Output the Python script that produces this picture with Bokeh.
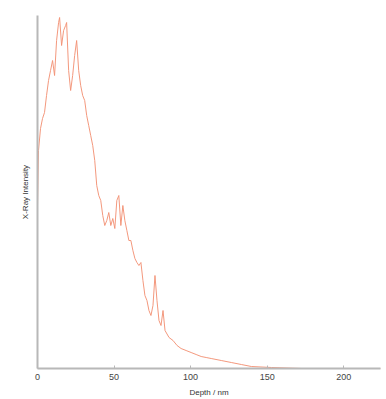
from bokeh.plotting import figure
from bokeh.embed import file_html
from bokeh.resources import INLINE
from bokeh.models import Range1d, FixedTicker

depth = [0, 0.66, 1.97, 3.28, 4.59, 5.9, 7.21, 8.52, 9.84, 11.15,
         12.46, 13.77, 14.43, 15.74, 17.05, 18.36, 19.02, 20.33, 21.64, 22.95,
         24.26, 25.57, 26.89, 28.2, 29.51, 30.82, 32.13, 33.44, 34.75, 36.07,
         37.38, 38.69, 40, 41.31, 42.62, 43.93, 45.25, 46.56, 47.87, 49.18,
         50.49, 51.8, 53.11, 54.43, 55.74, 57.05, 58.36, 59.67, 60.98, 62.3,
         63.61, 64.92, 66.23, 67.54, 68.85, 70.16, 71.48, 72.79, 74.1, 75.41,
         76.72, 78.03, 79.34, 80.66, 81.97, 83.28, 85.9, 88.52, 91.15, 93.77,
         97.05, 100.33, 103.61, 106.89, 110.16, 113.44, 120, 126.56, 133.11, 139.67,
         152.79, 172.46, 224.9]
intensity = [163, 218, 240, 250, 256, 273, 288, 298, 308, 293,
             328, 346, 351, 323, 338, 343, 346, 298, 278, 293,
             313, 328, 298, 283, 273, 268, 253, 243, 233, 223,
             208, 183, 173, 168, 153, 143, 148, 156, 143, 150,
             140, 168, 173, 143, 163, 148, 138, 128, 128, 118,
             110, 106, 103, 106, 88, 73, 68, 58, 53, 63,
             93, 68, 48, 43, 58, 38, 31, 28, 23, 20,
             18, 16, 14, 12, 11, 10, 8, 6, 4, 2,
             1, 0, 0]
x_ticks = [0, 50, 100, 150, 200]

p = figure(width=382, height=399, output_backend="svg", toolbar_location=None,
           x_range=Range1d(0, 224), y_range=Range1d(0, 353),
           min_border_left=37, min_border_top=15, min_border_right=2, min_border_bottom=31)

p.line(depth, intensity, line_color="#f29276", line_width=1, line_alpha=0.95)

p.grid.visible = False
p.outline_line_color = None
p.background_fill_color = "white"
p.border_fill_color = "white"

p.xaxis.ticker = FixedTicker(ticks=x_ticks)
p.yaxis.ticker = FixedTicker(ticks=[])
p.xaxis.axis_label = "Depth / nm"
p.yaxis.axis_label = "X-Ray Intensity"
for ax in (p.xaxis[0], p.yaxis[0]):
    ax.axis_line_color = "#b8b8b8"
    ax.axis_line_width = 2
    ax.major_tick_line_color = "#b8b8b8"
    ax.major_tick_in = 3
    ax.major_tick_out = 0
    ax.minor_tick_line_color = None
    ax.major_label_text_font = "Liberation Sans"
    ax.major_label_text_font_size = "9px"
    ax.major_label_text_color = "#444444"
    ax.axis_label_text_font = "Liberation Sans"
    ax.axis_label_text_font_size = "8px"
    ax.axis_label_text_font_style = "normal"
    ax.axis_label_text_color = "#333333"
p.yaxis.axis_label_standoff = 8
p.xaxis.major_label_standoff = 5
p.xaxis.axis_label_standoff = 5

open("out.html", "w").write(file_html(p, INLINE))
